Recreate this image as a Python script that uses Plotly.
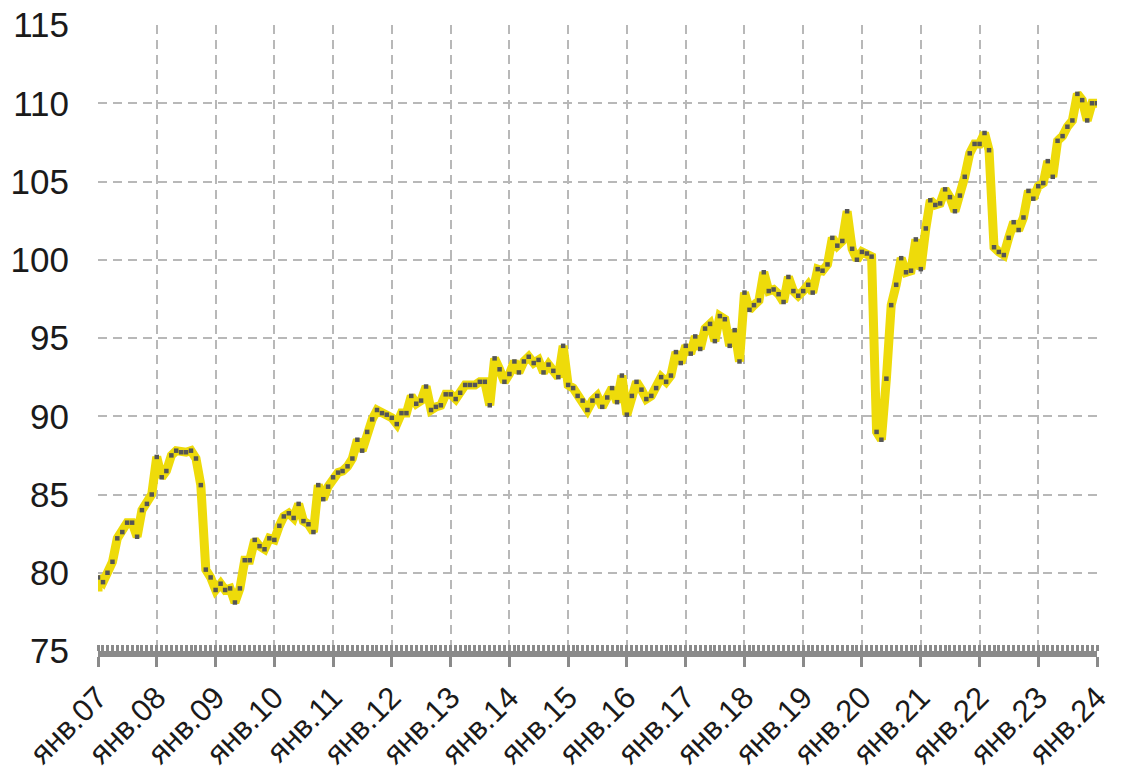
import pandas as pd
import plotly.graph_objects as go

# Monthly index values, Jan 2007 .. Jan 2024
y2007 = [79.7, 79.4, 80.0, 80.7, 82.2, 82.6, 83.2, 83.2, 82.3, 84.0, 84.4, 85.0]
y2008 = [87.4, 86.1, 86.5, 87.5, 87.8, 87.7, 87.7, 87.8, 87.3, 85.6, 80.2, 79.7]
y2009 = [78.9, 79.3, 78.9, 79.0, 78.1, 79.0, 80.8, 80.8, 82.1, 81.7, 81.5, 82.2]
y2010 = [82.1, 83.0, 83.6, 83.8, 83.5, 84.4, 83.3, 83.1, 82.6, 85.6, 84.7, 85.5]
y2011 = [86.1, 86.4, 86.5, 86.8, 87.3, 88.5, 87.8, 89.0, 89.8, 90.4, 90.2, 90.1]
y2012 = [89.9, 89.5, 90.2, 90.2, 91.3, 90.8, 91.0, 91.9, 90.4, 90.6, 90.7, 91.4]
y2013 = [91.4, 91.1, 91.5, 92.0, 92.0, 92.0, 92.2, 92.2, 90.7, 93.7, 93.0, 92.2]
y2014 = [92.7, 93.5, 92.8, 93.5, 93.8, 93.4, 93.6, 92.8, 93.3, 92.9, 92.5, 94.5]
y2015 = [92.0, 91.8, 91.3, 91.0, 90.4, 91.0, 91.3, 90.6, 91.2, 91.8, 90.9, 92.6]
y2016 = [90.1, 91.3, 92.2, 91.7, 91.1, 91.3, 91.8, 92.5, 92.2, 92.6, 94.1, 93.4]
y2017 = [94.5, 94.0, 95.1, 94.3, 95.6, 95.9, 94.8, 96.4, 96.2, 94.5, 95.5, 93.5]
y2018 = [97.9, 96.8, 97.1, 97.4, 99.2, 98.0, 98.1, 97.8, 97.3, 98.9, 98.0, 97.7]
y2019 = [98.0, 98.4, 97.9, 99.4, 99.3, 99.7, 101.4, 100.9, 101.2, 103.1, 100.7, 100.0]
y2020 = [100.5, 100.4, 100.2, 89.0, 88.5, 92.4, 97.1, 98.4, 100.1, 99.2, 99.3, 101.3]
y2021 = [99.4, 102.0, 103.8, 103.5, 103.6, 104.5, 104.0, 103.1, 104.1, 105.3, 106.8, 107.4]
y2022 = [107.4, 108.1, 107.0, 100.8, 100.5, 100.3, 101.4, 102.4, 101.9, 102.7, 104.4, 103.9]
y2023 = [104.7, 104.9, 106.3, 105.3, 107.6, 107.9, 108.5, 108.9, 110.6, 110.2, 108.9, 110.0]
y2024 = [110.0]

# the yellow line starts slightly below the first marker
LINE_START = 78.8

years = list(range(2007, 2025))
tick_labels = ["янв.%02d" % (y % 100) for y in years]
y_ticks = [75, 80, 85, 90, 95, 100, 105, 110, 115]

values = (y2007 + y2008 + y2009 + y2010 + y2011 + y2012 + y2013 + y2014 + y2015 +
          y2016 + y2017 + y2018 + y2019 + y2020 + y2021 + y2022 + y2023 + y2024)
dates = pd.date_range("2007-01-01", periods=len(values), freq="MS")
tick_dates = [pd.Timestamp(f"{y}-01-01") for y in years]

line_values = [LINE_START] + values
line_dates = [dates[0]] + list(dates)

fig = go.Figure()
fig.add_trace(go.Scatter(
    x=line_dates, y=line_values, mode="lines",
    line=dict(color="#EEDB0A", width=9),
    hoverinfo="skip", showlegend=False,
))
fig.add_trace(go.Scatter(
    x=dates, y=values, mode="markers",
    marker=dict(symbol="square", size=4.5, color="#555555"),
    showlegend=False,
))

grid_color = "#B8B8B8"
axis_color = "#8A8A8A"
fig.update_xaxes(
    type="date",
    range=[tick_dates[0], tick_dates[-1]],
    tickmode="array", tickvals=tick_dates, ticktext=tick_labels,
    tickangle=-45,
    tickfont=dict(family="Liberation Sans, Arial", size=31, color="#1a1a1a"),
    showgrid=True, gridcolor=grid_color, gridwidth=1.6, griddash="9px,6px",
    showline=True, linecolor=axis_color, linewidth=6,
    ticks="outside", ticklen=10, tickwidth=3, tickcolor=axis_color,
    minor=dict(dtick="M1", ticks="inside", ticklen=6, tickwidth=2.5,
               tickcolor=axis_color, showgrid=False),
    zeroline=False, automargin=False,
    ticklabelstandoff=0, ticklabeloverflow="allow",
)
fig.update_yaxes(
    range=[75, 115],
    tickmode="array", tickvals=y_ticks,
    tickfont=dict(family="Liberation Sans, Arial", size=35, color="#1a1a1a"),
    showgrid=True, gridcolor=grid_color, gridwidth=1.6, griddash="9px,6px",
    ticks="", showline=False, zeroline=False, automargin=False,
    ticklabelstandoff=28, ticklabeloverflow="allow",
)
fig.update_layout(
    width=1125, height=772,
    margin=dict(l=98, r=28, t=25, b=121),
    plot_bgcolor="white", paper_bgcolor="white",
)
# remove the default page body margin so the figure fills the window exactly
fig.write_html(
    "out.html",
    config={"displayModeBar": False},
    post_script="document.body.style.margin='0';document.body.style.overflow='hidden';",
)
